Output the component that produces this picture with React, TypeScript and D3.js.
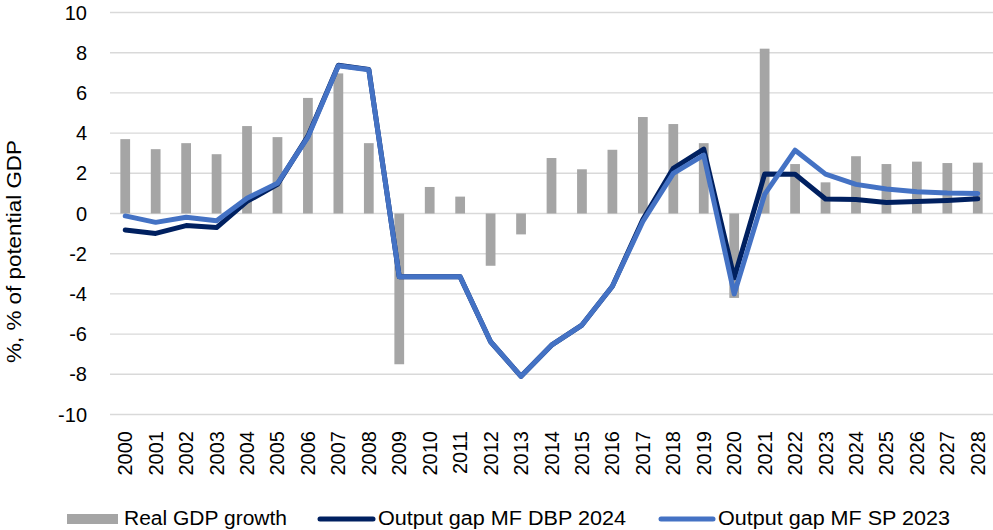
import React from "react";
import * as d3 from "d3";

const years = ["2000","2001","2002","2003","2004","2005","2006","2007","2008","2009","2010","2011","2012","2013","2014","2015","2016","2017","2018","2019","2020","2021","2022","2023","2024","2025","2026","2027","2028"];
const realGdpGrowth = [3.7,3.2,3.5,2.95,4.35,3.8,5.75,6.97,3.5,-7.5,1.32,0.84,-2.6,-1.04,2.76,2.2,3.17,4.8,4.45,3.5,-4.2,8.2,2.46,1.55,2.85,2.46,2.58,2.51,2.53];
const gapDbp2024 = [-0.82,-0.99,-0.6,-0.7,0.6,1.45,3.85,7.38,7.17,-3.15,-3.15,-3.15,-6.38,-8.1,-6.55,-5.55,-3.62,-0.3,2.25,3.2,-3.2,1.96,1.95,0.72,0.7,0.55,0.6,0.65,0.73];
const gapSp2023 = [-0.12,-0.44,-0.19,-0.36,0.76,1.5,3.8,7.35,7.15,-3.15,-3.15,-3.15,-6.38,-8.1,-6.55,-5.55,-3.62,-0.4,2.0,2.9,-4.0,0.95,3.15,1.96,1.45,1.22,1.08,1.02,1.0];
const yTicks = [-10,-8,-6,-4,-2,0,2,4,6,8,10];
const seriesNames = ["Real GDP growth","Output gap MF DBP 2024","Output gap MF SP 2023"];
const colors = ["#A5A5A5","#002060","#4472C4"];

const W = 993, H = 530;
const left = 110, right = 993, top = 12.5, bottom = 414.5;
const font = "'Liberation Sans', Arial, sans-serif";

export default function App() {
  const x = d3.scaleBand<string>().domain(years).range([left, right]).paddingInner(0.68).paddingOuter(0.34);
  const y = d3.scaleLinear().domain([-10, 10]).range([bottom, top]);
  const cx = (d: string) => (x(d) as number) + x.bandwidth() / 2;
  const line = d3.line<number>().x((_, i) => cx(years[i])).y((v) => y(v));

  return (
    <svg width={W} height={H} style={{ position: "absolute", left: 0, top: 0, background: "#fff" }} fontFamily={font}>
      {yTicks.map((t) => (
        <g key={t}>
          <line x1={left} x2={right} y1={y(t)} y2={y(t)} stroke="#D9D9D9" strokeWidth={1.4} />
          <text x={87} y={y(t)} dy="0.35em" textAnchor="end" fontSize={20} fill="#000">{t}</text>
        </g>
      ))}
      {realGdpGrowth.map((v, i) => (
        <rect key={i} x={x(years[i])} width={x.bandwidth()} y={Math.min(y(v), y(0))} height={Math.abs(y(v) - y(0))} fill={colors[0]} />
      ))}
      <path d={line(gapDbp2024) || ""} fill="none" stroke={colors[1]} strokeWidth={5} strokeLinejoin="round" strokeLinecap="round" />
      <path d={line(gapSp2023) || ""} fill="none" stroke={colors[2]} strokeWidth={5} strokeLinejoin="round" strokeLinecap="round" />
      {years.map((yr) => (
        <text key={yr} transform={`translate(${cx(yr)},431) rotate(-90)`} dy="0.35em" textAnchor="end" fontSize={20} fill="#000">{yr}</text>
      ))}
      <text transform="translate(21,251.5) rotate(-90)" textAnchor="middle" fontSize={20} textLength={223} lengthAdjust="spacingAndGlyphs" fill="#000">%, % of potential GDP</text>
      <g>
        <rect x={67} y={514} width={51} height={10} fill={colors[0]} />
        <text x={124} y={525} fontSize={20} textLength={163} lengthAdjust="spacingAndGlyphs" fill="#000">{seriesNames[0]}</text>
        <line x1={320} x2={373} y1={519} y2={519} stroke={colors[1]} strokeWidth={5} strokeLinecap="round" />
        <text x={378} y={525} fontSize={20} textLength={248} lengthAdjust="spacingAndGlyphs" fill="#000">{seriesNames[1]}</text>
        <line x1={661} x2={713} y1={519} y2={519} stroke={colors[2]} strokeWidth={5} strokeLinecap="round" />
        <text x={718} y={525} fontSize={20} textLength={232} lengthAdjust="spacingAndGlyphs" fill="#000">{seriesNames[2]}</text>
      </g>
    </svg>
  );
}
